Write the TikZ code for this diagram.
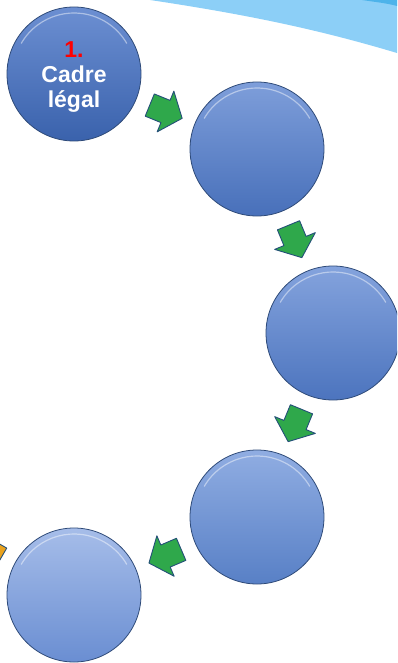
\documentclass[tikz,border=0pt]{standalone}
\usepackage{fontspec}
\setmainfont{Liberation Sans}
\usetikzlibrary{calc}

\definecolor{bandblue}{HTML}{8CCFF7}
\definecolor{banddark}{HTML}{4DB3EA}
\definecolor{stepgreen}{HTML}{2FA84B}
\definecolor{steporange}{HTML}{E9A21E}
\definecolor{stepedge}{HTML}{244F78}
\definecolor{ringedge}{HTML}{2E4A78}
\definecolor{topA}{RGB}{108,143,210}
\definecolor{botA}{RGB}{58,98,172}
\definecolor{topB}{RGB}{126,158,218}
\definecolor{botB}{RGB}{72,112,186}
\definecolor{topC}{RGB}{132,163,221}
\definecolor{botC}{RGB}{76,116,190}
\definecolor{topD}{RGB}{144,173,226}
\definecolor{botD}{RGB}{88,128,198}
\definecolor{topE}{RGB}{166,189,233}
\definecolor{botE}{RGB}{106,142,210}

\begin{document}
\begin{tikzpicture}[x=1pt,y=-1pt,
		bubble/.style={circle,minimum size=134pt,inner sep=0pt,draw=ringedge,line width=.8pt,
			path picture={\draw[white,opacity=.45,line width=1.2pt]
				([shift={(-150:61)}]path picture bounding box.center) arc[start angle=-150,end angle=-30,radius=61];}},
		flowfill/.style={fill=stepgreen},
		flowline/.style={draw=stepedge,line width=.9pt,line join=round},
		flowarrow/.pic={\path[flowline,flowfill]
			(-17,-12) -- (0,-12) -- (0,-22) -- (18,0) -- (0,22) -- (0,12) -- (-17,12) -- cycle;}]
				\useasboundingbox (0,0) rectangle (397,663);
				\clip (0,0) rectangle (397,663);
				% Light blue band in the top right corner
				\fill[bandblue] (150,0) .. controls (250,15) and (320,30) .. (397,53) -- (397,0) -- cycle;
				\fill[banddark] (362,0) .. controls (375,2) and (386,3) .. (397,6) -- (397,0) -- cycle;
				
				% The steps, darkest first
				\node[bubble,top color=topA,bottom color=botA] (c1) at (74,74) {};
				\node[text=white,font=\bfseries\fontsize{23}{25}\selectfont,align=center] (t1) at (74,77)
					{\textcolor{red}{1.}\\Cadre\\légal};
				\node[bubble,top color=topB,bottom color=botB] (c2) at (257,149) {};
				\node[bubble,top color=topC,bottom color=botC] (c3) at (333,333) {};
				\node[bubble,top color=topD,bottom color=botD] (c4) at (257,517) {};
				\node[bubble,top color=topE,bottom color=botE] (c5) at (74,595) {};
				
				% Green arrows between the steps
				\foreach \from/\to in {c1/c2,c2/c3,c3/c4,c4/c5}
					\path let \p1=($(\to)-(\from)$) in ($(\from)!.5!(\to)$) pic[rotate={atan2(\y1,\x1)}] {flowarrow};
				
				% Next arrow, cut off at the edge
				\coordinate (c6) at (-14,550);
				\path (c6) pic[rotate=150,flowfill/.style={fill=steporange}] {flowarrow};
			\end{tikzpicture}
\end{document}
